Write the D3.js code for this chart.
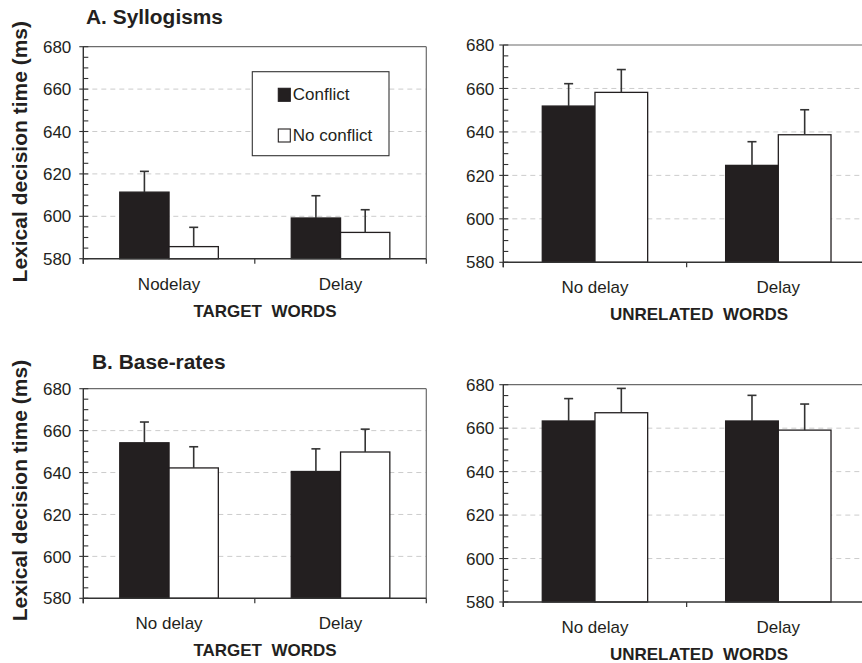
<!DOCTYPE html>
<html>
<head>
<meta charset="utf-8">
<script src="https://cdn.jsdelivr.net/npm/d3@7"></script>
<style>
  html, body { margin: 0; padding: 0; background: #fff; }
  svg { display: block; font-family: "Liberation Sans", Arial, sans-serif; }
  text { fill: #231f20; }
</style>
</head>
<body>
<svg id="chart" width="862" height="663"></svg>
<script>
// ---------- data ----------
const seriesNames = ["Conflict", "No conflict"];
const targetCatsSyl = ["Nodelay", "Delay"];
const delayCats = ["No delay", "Delay"];
const yTickValues = [580, 600, 620, 640, 660, 680];
const gridValues = [600, 620, 640, 660];
const yDomain = [580, 680];

// A. Syllogisms - target words
const sylTargetConflict = [611.4, 599.2];
const sylTargetConflictSE = [9.8, 10.5];
const sylTargetNoConflict = [585.7, 592.4];
const sylTargetNoConflictSE = [9.1, 10.7];
// A. Syllogisms - unrelated words
const sylUnrelConflict = [651.9, 624.6];
const sylUnrelConflictSE = [10.3, 10.9];
const sylUnrelNoConflict = [658.2, 638.7];
const sylUnrelNoConflictSE = [10.5, 11.5];
// B. Base-rates - target words
const brTargetConflict = [654.2, 640.5];
const brTargetConflictSE = [9.9, 10.8];
const brTargetNoConflict = [642.2, 649.8];
const brTargetNoConflictSE = [10.1, 10.9];
// B. Base-rates - unrelated words
const brUnrelConflict = [663.3, 663.3];
const brUnrelConflictSE = [10.3, 11.8];
const brUnrelNoConflict = [667.1, 659.1];
const brUnrelNoConflictSE = [11.2, 12.0];

const seriesFill = ["#231f20", "#ffffff"];

// ---------- layout ----------
const panels = [
  { cats: targetCatsSyl, vals: [sylTargetConflict, sylTargetNoConflict], se: [sylTargetConflictSE, sylTargetNoConflictSE],
    x0: 83.3, x1: 426.3, yTop: 46.7, yBot: 258.7, labelGap: 12, group: "TARGET  WORDS", groupX: 265,
    title: "A. Syllogisms", titleX: 86, titleY: 24, ylab: true, ylabY: 151.7, legend: true },
  { cats: delayCats, vals: [sylUnrelConflict, sylUnrelNoConflict], se: [sylUnrelConflictSE, sylUnrelNoConflictSE],
    x0: 503.3, x1: 870, yTop: 45, yBot: 262.3, labelGap: 9, group: "UNRELATED  WORDS", groupX: 699 },
  { cats: delayCats, vals: [brTargetConflict, brTargetNoConflict], se: [brTargetConflictSE, brTargetNoConflictSE],
    x0: 83.3, x1: 426.3, yTop: 388.7, yBot: 598.3, labelGap: 12, group: "TARGET  WORDS", groupX: 265,
    title: "B. Base-rates", titleX: 92, titleY: 369.3, ylab: true, ylabY: 490.5 },
  { cats: delayCats, vals: [brUnrelConflict, brUnrelNoConflict], se: [brUnrelConflictSE, brUnrelNoConflictSE],
    x0: 503.3, x1: 870, yTop: 384.7, yBot: 602, labelGap: 9, group: "UNRELATED  WORDS", groupX: 699 }
];

const svg = d3.select("#chart");

function drawPanel(p) {
  const g = svg.append("g");
  const x = d3.scaleBand().domain(p.cats).range([p.x0, p.x1]).padding(0);
  const xs = d3.scaleBand().domain(seriesNames).range([0, x.bandwidth()]).paddingInner(0).paddingOuter(0.74);
  const y = d3.scaleLinear().domain(yDomain).range([p.yBot, p.yTop]);

  // grid lines
  g.selectAll(".grid").data(gridValues).join("line")
    .attr("x1", p.x0).attr("x2", p.x1)
    .attr("y1", d => y(d)).attr("y2", d => y(d))
    .attr("stroke", "#cccccc").attr("stroke-width", 1).attr("stroke-dasharray", "5,4");

  // frame (top & right)
  g.append("line").attr("x1", p.x0).attr("x2", p.x1).attr("y1", y(680)).attr("y2", y(680))
    .attr("stroke", "#6b6b6b").attr("stroke-width", 1.2);
  g.append("line").attr("x1", p.x1).attr("x2", p.x1).attr("y1", y(680)).attr("y2", y(580))
    .attr("stroke", "#6b6b6b").attr("stroke-width", 1.2);

  // bars
  const flat = [];
  p.cats.forEach((c, ci) => seriesNames.forEach((s, si) => {
    flat.push({ cat: c, s: s, si: si, v: p.vals[si][ci], e: p.se[si][ci] });
  }));
  g.selectAll(".bar").data(flat).join("rect")
    .attr("x", d => x(d.cat) + xs(d.s))
    .attr("width", xs.bandwidth())
    .attr("y", d => y(d.v))
    .attr("height", d => y(580) - y(d.v))
    .attr("fill", d => seriesFill[d.si])
    .attr("stroke", "#231f20").attr("stroke-width", 1.3);

  // error bars
  const eb = g.selectAll(".err").data(flat).join("g");
  eb.append("line")
    .attr("x1", d => x(d.cat) + xs(d.s) + xs.bandwidth() / 2)
    .attr("x2", d => x(d.cat) + xs(d.s) + xs.bandwidth() / 2)
    .attr("y1", d => y(d.v)).attr("y2", d => y(d.v + d.e))
    .attr("stroke", "#333").attr("stroke-width", 1.6);
  eb.append("line")
    .attr("x1", d => x(d.cat) + xs(d.s) + xs.bandwidth() / 2 - 4.5)
    .attr("x2", d => x(d.cat) + xs(d.s) + xs.bandwidth() / 2 + 4.5)
    .attr("y1", d => y(d.v + d.e)).attr("y2", d => y(d.v + d.e))
    .attr("stroke", "#333").attr("stroke-width", 1.6);

  // y axis
  const minor = d3.range(yDomain[0], yDomain[1] + 1, 5).filter(v => v % 20 !== 0);
  g.append("line").attr("x1", p.x0).attr("x2", p.x0).attr("y1", y(680)).attr("y2", y(580) + 5)
    .attr("stroke", "#333").attr("stroke-width", 1.4);
  g.selectAll(".minor").data(minor).join("line")
    .attr("x1", p.x0).attr("x2", p.x0 + 5).attr("y1", d => y(d)).attr("y2", d => y(d))
    .attr("stroke", "#333").attr("stroke-width", 1.1);
  g.selectAll(".major").data(yTickValues).join("line")
    .attr("x1", p.x0 - 4).attr("x2", p.x0 + 5).attr("y1", d => y(d)).attr("y2", d => y(d))
    .attr("stroke", "#333").attr("stroke-width", 1.1);
  g.selectAll(".ylab").data(yTickValues).join("text")
    .attr("x", p.x0 - p.labelGap).attr("y", d => y(d)).attr("dy", "0.36em")
    .attr("text-anchor", "end").attr("font-size", 17).text(d => d);

  // x axis
  g.append("line").attr("x1", p.x0).attr("x2", p.x1).attr("y1", y(580)).attr("y2", y(580))
    .attr("stroke", "#333").attr("stroke-width", 1.4);
  const bounds = p.cats.map(c => x(c)).concat([p.x1]);
  g.selectAll(".xt").data(bounds).join("line")
    .attr("x1", d => d).attr("x2", d => d).attr("y1", y(580)).attr("y2", y(580) + 5)
    .attr("stroke", "#333").attr("stroke-width", 1.2);
  g.selectAll(".xl").data(p.cats).join("text")
    .attr("x", d => x(d) + x.bandwidth() / 2).attr("y", y(580) + 31)
    .attr("text-anchor", "middle").attr("font-size", 17).text(d => d);
  g.append("text").attr("x", p.groupX).attr("y", y(580) + 58)
    .attr("text-anchor", "middle").attr("font-size", 17).attr("font-weight", "bold")
    .style("white-space", "pre").text(p.group);

  if (p.title) {
    g.append("text").attr("x", p.titleX).attr("y", p.titleY)
      .attr("font-size", 20.9).attr("font-weight", "bold").text(p.title);
  }
  if (p.ylab) {
    g.append("text").attr("transform", `translate(26.5,${p.ylabY}) rotate(-90)`)
      .attr("text-anchor", "middle").attr("font-size", 21).attr("font-weight", "bold")
      .text("Lexical decision time (ms)");
  }
  if (p.legend) {
    const lg = g.append("g");
    lg.append("rect").attr("x", 252.3).attr("y", 71.7).attr("width", 136.7).attr("height", 84)
      .attr("fill", "#fff").attr("stroke", "#333").attr("stroke-width", 1.1);
    const items = lg.selectAll(".li").data(seriesNames).join("g")
      .attr("transform", (d, i) => `translate(278.3,${88.3 + i * 40.7})`);
    items.append("rect").attr("x", 0).attr("y", 0).attr("width", 12).attr("height", 13)
      .attr("fill", (d, i) => seriesFill[i]).attr("stroke", "#231f20").attr("stroke-width", 1.1);
    items.append("text").attr("x", 14.5).attr("y", 12).attr("font-size", 17).text(d => d);
  }
}

panels.forEach(drawPanel);
</script>
</body>
</html>
